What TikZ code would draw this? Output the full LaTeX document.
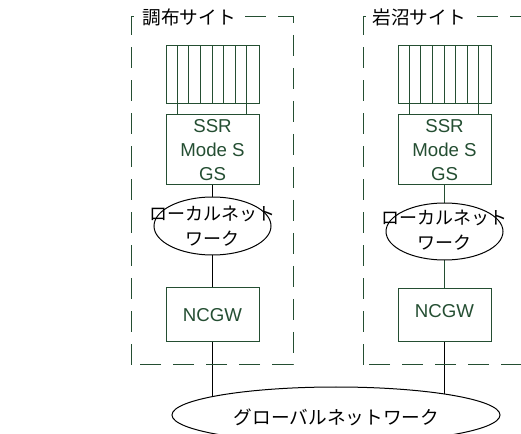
\documentclass[tikz,border=0pt]{standalone}
\usepackage{fontspec}
\setmainfont{Liberation Sans}
\newfontfamily\jp{Noto Sans CJK JP}
\usetikzlibrary{shapes.geometric,backgrounds,calc}
\definecolor{dgreen}{RGB}{36,78,50}
\tikzset{
  sitebox/.style={draw=dgreen,line width=0.75pt,dash pattern=on 15.75pt off 9pt},
  sitetitle/.style={fill=white,inner sep=1pt,font=\jp\fontsize{14pt}{16pt}\selectfont,anchor=west},
  gbox/.style={draw=dgreen,line width=0.75pt,rectangle,minimum width=69.75pt,inner sep=0pt},
  gtext/.style={text=dgreen,font=\fontsize{14pt}{18pt}\selectfont,align=center},
  net/.style={draw=black,line width=0.75pt,ellipse,inner sep=0pt,fill=white},
  nettext/.style={font=\jp\fontsize{13.5pt}{19pt}\selectfont,align=center,inner sep=0pt},
  link/.style={line width=0.75pt,draw=black},
  glink/.style={line width=0.75pt,draw=dgreen}
}
\begin{document}
\begin{tikzpicture}[x=0.75pt,y=-0.75pt]
\useasboundingbox (0,0) rectangle (521,434);
\clip (0,0) rectangle (521,434);
% site boxes
\draw[sitebox] (131,365) -- (131,17) -- (293,17) -- (293,365) -- cycle;
\draw[sitebox] (363,365) -- (363,17) -- (540,17) -- (540,365) -- cycle;
\node[sitetitle] (t1) at (141,17) {調布サイト};
\node[sitetitle] (t2) at (371,17) {岩沼サイト};
% left site
\node[gbox,minimum height=43.5pt] (ant1) at (212.5,75) {};
\foreach \i in {1,...,7} \draw[glink] ($(ant1.north west)+(\i*11.625,0)$) -- ($(ant1.south west)+(\i*11.625,0)$);
\node[gbox,minimum height=52.5pt,gtext] (ssr1) at (212.5,150) {SSR\\Mode S\\GS};
\draw[glink] ($(ant1.south west)+(11.625,0)$) -- ($(ssr1.north west)+(11.625,0)$);
\draw[glink] ($(ant1.south west)+(81.375,0)$) -- ($(ssr1.north west)+(81.375,0)$);
\node[net,minimum width=87.75pt,minimum height=43.5pt] (ln1) at (212.5,226) {};
\node[nettext] (ln1t) at (212.5,226) {ローカルネット\\ワーク};
\node[gbox,minimum height=40.5pt,gtext] (nc1) at (212.5,315) {NCGW};
% right site
\node[gbox,minimum height=43.5pt] (ant2) at (444.5,75) {};
\foreach \i in {1,...,7} \draw[glink] ($(ant2.north west)+(\i*11.625,0)$) -- ($(ant2.south west)+(\i*11.625,0)$);
\node[gbox,minimum height=52.5pt,gtext] (ssr2) at (444.5,150) {SSR\\Mode S\\GS};
\draw[glink] ($(ant2.south west)+(11.625,0)$) -- ($(ssr2.north west)+(11.625,0)$);
\draw[glink] ($(ant2.south west)+(81.375,0)$) -- ($(ssr2.north west)+(81.375,0)$);
\node[net,minimum width=87.75pt,minimum height=42.75pt] (ln2) at (444.5,231.5) {};
\node[nettext] (ln2t) at (444.5,230) {ローカルネット\\ワーク};
\node[gbox,minimum height=39.75pt,gtext] (nc2) at (444.5,315.5) {\raisebox{7pt}{NCGW}};
% global network
\node[net,minimum width=246pt,minimum height=42pt] (glob) at (336,415) {};
\node[nettext,font=\jp\fontsize{14pt}{19pt}\selectfont] (globt) at (336.5,417) {グローバルネットワーク};
% connectors
\begin{scope}[on background layer]
\draw[link] (ssr1.south) -- (ln1.center);
\draw[link] (ln1.center) -- (nc1.north);
\draw[link] (nc1.south) -- (nc1.south |- glob.center);
\draw[glink] (ssr2.south) -- (ln2.center);
\draw[glink] (ln2.center) -- (nc2.north);
\draw[link] (nc2.south) -- (nc2.south |- glob.center);
\end{scope}
\end{tikzpicture}
\end{document}
